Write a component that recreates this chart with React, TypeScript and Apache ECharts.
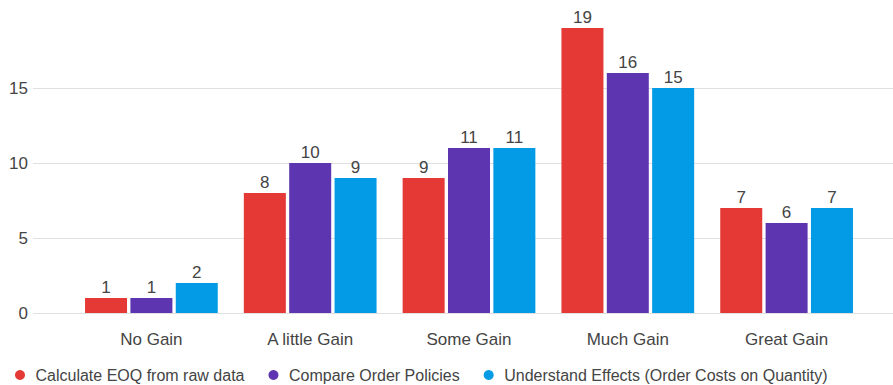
import React, { useEffect, useRef } from "react";
import * as echarts from "echarts";

const categories = ["No Gain", "A little Gain", "Some Gain", "Much Gain", "Great Gain"];
const seriesNames = [
  "Calculate EOQ from raw data",
  "Compare Order Policies",
  "Understand Effects (Order Costs on Quantity)",
];
const eoqValues = [1, 8, 9, 19, 7];
const compareValues = [1, 10, 11, 16, 6];
const understandValues = [2, 9, 11, 15, 7];
const colors = ["#e53935", "#5e35b1", "#039be5"];

const FONT = "'Liberation Sans', Arial, sans-serif";
const TEXT = "#444444";

export default function App() {
  const ref = useRef<HTMLDivElement>(null);
  useEffect(() => {
    if (!ref.current) return;
    const chart = echarts.init(ref.current, undefined, { renderer: "svg" });
    const values = [eoqValues, compareValues, understandValues];
    chart.setOption({
      animation: false,
      textStyle: { fontFamily: FONT },
      color: colors,
      legend: {
        left: 15,
        top: 367,
        icon: "circle",
        itemWidth: 21,
        itemHeight: 10,
        itemGap: 24,
        padding: 0,
        textStyle: { fontSize: 16, color: TEXT, fontFamily: FONT, lineHeight: 16 },
        data: seriesNames,
      },
      grid: [
        { left: 33, right: 0, top: 13, bottom: 72 },
        { left: 72, right: 27, top: 13, bottom: 72 },
      ],
      xAxis: [
        { type: "value", gridIndex: 0, min: 0, max: 1, show: false },
        {
          type: "category",
          gridIndex: 1,
          data: categories,
          axisLine: { show: false },
          axisTick: { show: false },
          axisLabel: { fontSize: 17, color: TEXT, margin: 18, fontFamily: FONT },
        },
      ],
      yAxis: [
        {
          type: "value",
          gridIndex: 0,
          min: 0,
          max: 20,
          interval: 5,
          axisLine: { show: false },
          axisTick: { show: false },
          axisLabel: {
            fontSize: 17,
            color: TEXT,
            margin: 5,
            fontFamily: FONT,
            showMaxLabel: false,
          },
          splitLine: {
            show: true,
            lineStyle: {
              color: ["#e0e0e0", "#e0e0e0", "#e0e0e0", "#e0e0e0", "rgba(0,0,0,0)"],
              width: 1,
            },
          },
        },
        {
          type: "value",
          gridIndex: 1,
          min: 0,
          max: 20,
          interval: 5,
          show: false,
          splitLine: { show: false },
        },
      ],
      series: seriesNames.map((name, i) => ({
        name,
        type: "bar",
        xAxisIndex: 1,
        yAxisIndex: 1,
        data: values[i],
        barWidth: 42,
        barGap: "8%",
        itemStyle: { color: colors[i] },
        label: {
          show: true,
          position: "top",
          distance: 2,
          fontSize: 17,
          color: TEXT,
          fontFamily: FONT,
        },
      })),
    });
    return () => chart.dispose();
  }, []);
  return (
    <div
      ref={ref}
      style={{ position: "fixed", left: 0, top: 0, width: 893, height: 385, background: "#fff" }}
    />
  );
}
